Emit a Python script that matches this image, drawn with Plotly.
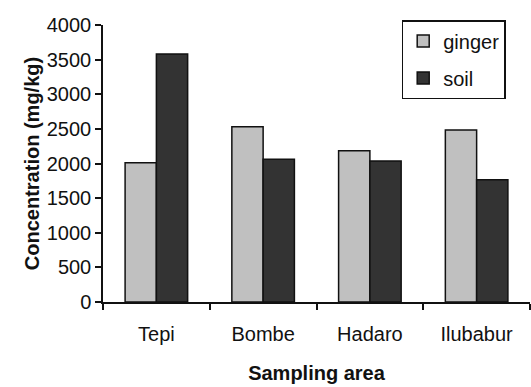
import plotly.graph_objects as go

# Sampling areas and measured concentrations (mg/kg)
areas = ["Tepi", "Bombe", "Hadaro", "Ilubabur"]
ginger = [2010, 2530, 2185, 2485]
soil = [3580, 2060, 2035, 1765]

y_ticks = [0, 500, 1000, 1500, 2000, 2500, 3000, 3500, 4000]

FONT = "Liberation Sans, Arial, sans-serif"

fig = go.Figure()
fig.add_trace(go.Bar(
    x=areas, y=ginger, name="ginger", legendgroup="g",
    marker=dict(color="#c0c0c0", line=dict(color="#111111", width=1.5)),
))
fig.add_trace(go.Bar(
    x=areas, y=soil, name="soil", legendgroup="s",
    marker=dict(color="#333333", line=dict(color="#111111", width=1.5)),
))

# plot area in pixels
L, R, T, B = 103, 1, 25, 85
pw = 531 - L - R
ph = 387 - T - B

fig.update_layout(
    width=531, height=387,
    margin=dict(l=L, r=R, t=T, b=B),
    paper_bgcolor="white", plot_bgcolor="white",
    font=dict(family=FONT, size=20, color="#111111"),
    barmode="group", bargap=0.414, bargroupgap=0,
    showlegend=True,
    legend=dict(
        x=(401.7 - L) / pw, y=(302 - 20) / ph,
        xanchor="left", yanchor="top",
        bordercolor="#111111", borderwidth=1.5, bgcolor="white",
        font=dict(family=FONT, size=20),
        traceorder="grouped", tracegroupgap=8,
        itemwidth=30,
    ),
)

fig.update_xaxes(
    showline=True, linecolor="#111111", linewidth=1.5,
    ticks="outside", ticklen=6, tickwidth=1.5, tickcolor="#111111",
    tickson="boundaries", ticklabelstandoff=13,
    title=dict(text="<b>Sampling area</b>", font=dict(size=20), standoff=22),
    showgrid=False, zeroline=False,
)
fig.update_yaxes(
    range=[0, 4000], tickvals=y_ticks,
    showline=True, linecolor="#111111", linewidth=1.5,
    ticks="outside", ticklen=6, tickwidth=1.5, tickcolor="#111111",
    title=dict(text="<b>Concentration (mg/kg)</b>", font=dict(size=20), standoff=2),
    showgrid=False, zeroline=False,
)

fig.write_html("out.html")
